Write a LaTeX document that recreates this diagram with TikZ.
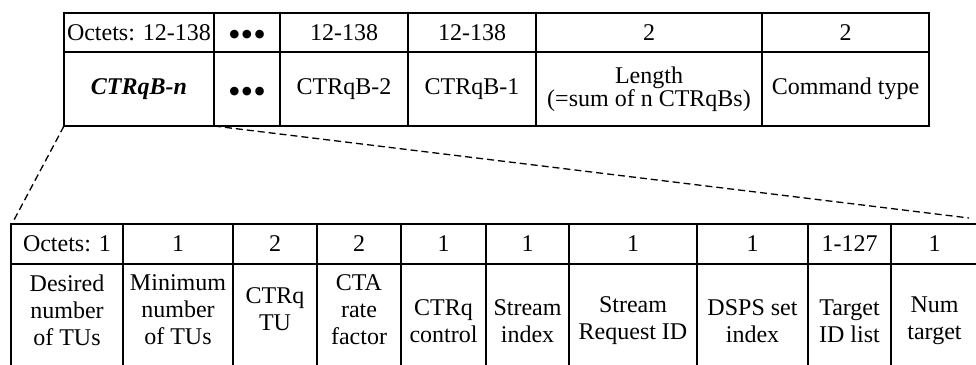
\documentclass[tikz,border=0pt]{standalone}
\usepackage{fontspec}
\setmainfont{Liberation Serif}
\begin{document}
\begin{tikzpicture}[x=1pt,y=-1pt,
  cellbox/.style={draw, line width=1.2pt, inner sep=0pt, outer sep=0pt, anchor=north west,
    font=\fontsize{24}{23}\selectfont, align=center},
  bcell/.style={draw, line width=1.7pt, inner sep=0pt, outer sep=0pt, anchor=north west,
    font=\fontsize{24}{27}\selectfont, align=center},
  btxt/.style={font=\fontsize{24}{27}\selectfont, align=center, inner sep=0pt},
  dotstxt/.style={font=\fontsize{36}{36}\selectfont, inner sep=0pt},
  zoomline/.style={line width=1.3pt, dash pattern=on 7pt off 4pt}
]
\useasboundingbox (0,0) rectangle (976,364);
% ---------- top table ----------
\node[cellbox, minimum width=150pt, minimum height=39pt] (o1) at (64,13) {Octets: 12-138};
\node[cellbox, minimum width=66pt,  minimum height=39pt] (o2) at (214,13) {};
\node[cellbox, minimum width=128pt, minimum height=39pt] (o3) at (280,13) {12-138};
\node[cellbox, minimum width=128pt, minimum height=39pt] (o4) at (408,13) {12-138};
\node[cellbox, minimum width=226pt, minimum height=39pt] (o5) at (536,13) {2};
\node[cellbox, minimum width=167pt, minimum height=39pt] (o6) at (762,13) {2};
\node[cellbox, minimum width=150pt, minimum height=74pt] (f1) at (64,52) {\textbf{\textit{CTRqB-n}}};
\node[cellbox, minimum width=66pt,  minimum height=74pt] (f2) at (214,52) {};
\node[cellbox, minimum width=128pt, minimum height=74pt] (f3) at (280,52) {CTRqB-2};
\node[cellbox, minimum width=128pt, minimum height=74pt] (f4) at (408,52) {CTRqB-1};
\node[cellbox, minimum width=226pt, minimum height=74pt] (f5) at (536,52) {Length\\(=sum of n CTRqBs)};
\node[cellbox, minimum width=167pt, minimum height=74pt] (f6) at (762,52) {Command type};
\node[dotstxt] (d1) at (247,38) {•••};
\node[dotstxt] (d2) at (247,95) {•••};
\draw[line width=2pt] (o1.north west) rectangle (f6.south east);
\draw[line width=2.6pt] (f1.north west) rectangle (f1.south east);
% ---------- bottom table ----------
\node[bcell, minimum width=112pt, minimum height=40pt] (p1) at (11,224) {Octets: 1};
\node[bcell, minimum width=110pt, minimum height=40pt] (p2) at (123,224) {1};
\node[bcell, minimum width=84pt,  minimum height=40pt] (p3) at (233,224) {2};
\node[bcell, minimum width=84pt,  minimum height=40pt] (p4) at (317,224) {2};
\node[bcell, minimum width=85pt,  minimum height=40pt] (p5) at (401,224) {1};
\node[bcell, minimum width=83pt,  minimum height=40pt] (p6) at (486,224) {1};
\node[bcell, minimum width=128pt, minimum height=40pt] (p7) at (569,224) {1};
\node[bcell, minimum width=111pt, minimum height=40pt] (p8) at (697,224) {1};
\node[bcell, minimum width=83pt,  minimum height=40pt] (p9) at (808,224) {1-127};
\node[bcell, minimum width=87pt,  minimum height=40pt] (p10) at (891,224) {1};
\node[bcell, minimum width=112pt, minimum height=110pt] (q1) at (11,264) {};
\node[bcell, minimum width=110pt, minimum height=110pt] (q2) at (123,264) {};
\node[bcell, minimum width=84pt,  minimum height=110pt] (q3) at (233,264) {};
\node[bcell, minimum width=84pt,  minimum height=110pt] (q4) at (317,264) {};
\node[bcell, minimum width=85pt,  minimum height=110pt] (q5) at (401,264) {};
\node[bcell, minimum width=83pt,  minimum height=110pt] (q6) at (486,264) {};
\node[bcell, minimum width=128pt, minimum height=110pt] (q7) at (569,264) {};
\node[bcell, minimum width=111pt, minimum height=110pt] (q8) at (697,264) {};
\node[bcell, minimum width=83pt,  minimum height=110pt] (q9) at (808,264) {};
\node[bcell, minimum width=87pt,  minimum height=110pt] (q10) at (891,264) {};
\draw[line width=2.4pt] (p1.north west) -- (p10.north east);
\draw[line width=2.4pt] (p1.south west) -- (p10.south east);
% bottom texts
\node[btxt] (t1) at (67,310) {Desired\\number\\of TUs};
\node[btxt] (t2) at (178,310) {Minimum\\number\\of TUs};
\node[btxt] (t3) at (275,309) {CTRq\\TU};
\node[btxt] (t4) at (359,310) {CTA\\rate\\factor};
\node[btxt] (t5) at (443.5,321) {CTRq\\control};
\node[btxt] (t6) at (527.5,321) {Stream\\index};
\node[btxt] (t7) at (633,321) {Stream\\Request ID};
\node[btxt] (t8) at (752.5,321) {DSPS set\\index};
\node[btxt] (t9) at (849.5,321) {Target\\ID list};
\node[btxt] (t10) at (934.5,321) {Num\\target};
% zoom connectors
\coordinate (lend) at (14,220);
\coordinate (rend) at (969,218);
\draw[zoomline] (f1.south west) -- (lend);
\draw[zoomline] (f1.south east) -- (rend);
\end{tikzpicture}
\end{document}
